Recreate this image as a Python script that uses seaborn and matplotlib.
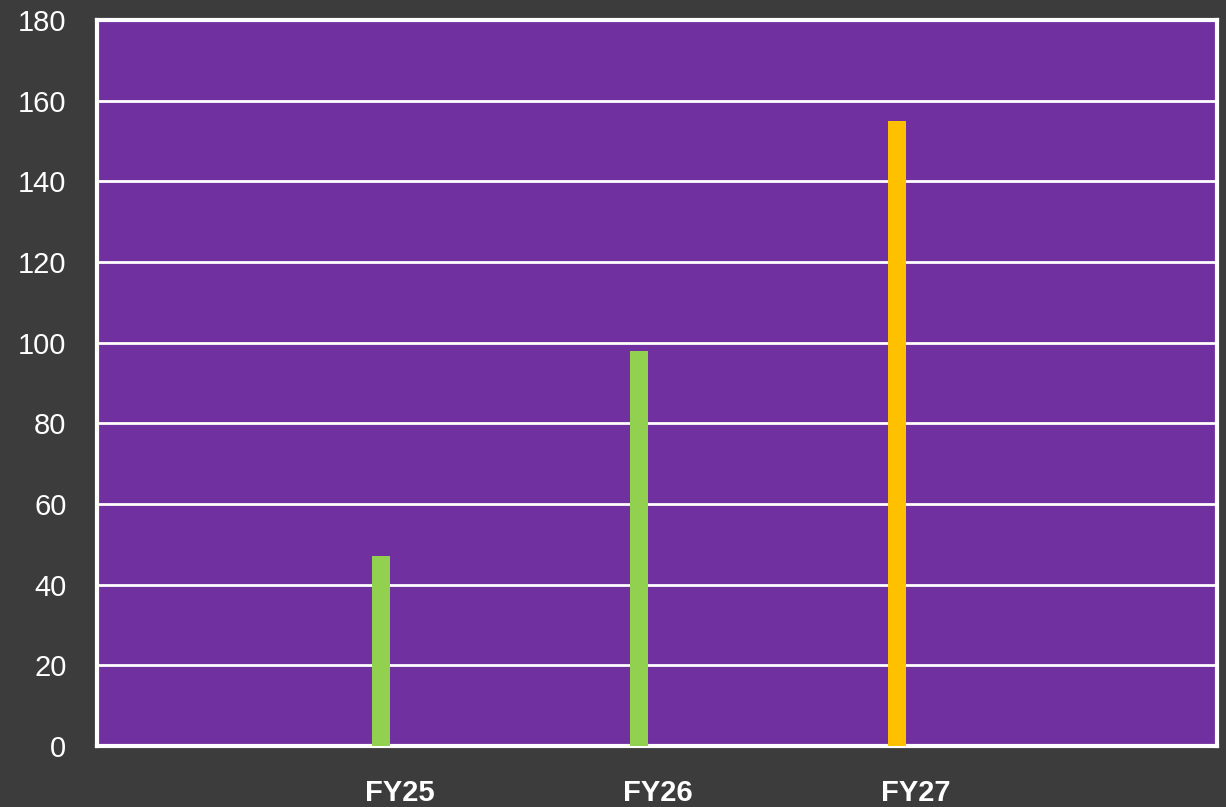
import numpy as np
import pandas as pd
import matplotlib
matplotlib.use('Agg')
import matplotlib.pyplot as plt
import matplotlib.transforms as mtransforms
import seaborn as sns

# data
years = ["FY25", "FY26", "FY27"]
values = [47, 98, 155]
bar_colors = ["#92D050", "#92D050", "#FFC000"]

df = pd.DataFrame({"year": years, "value": values})

sns.set_style("white")
plt.rcParams['font.family'] = ['Liberation Sans', 'DejaVu Sans']

fig = plt.figure(figsize=(12.26, 8.07), dpi=100)
fig.patch.set_facecolor("#3C3C3C")
ax = fig.add_axes([0.0791, 0.0756, 0.9136, 0.8996])
ax.set_facecolor("#7030A0")

sns.barplot(data=df, x="year", y="value", hue="year", palette=bar_colors,
            width=0.07, saturation=1, linewidth=0, legend=False, ax=ax, zorder=3)

ax.set_ylim(0, 180)
ax.set_yticks(range(0, 181, 20))
ax.set_xlim(-1.10, 3.24)
ax.yaxis.grid(True, color="white", linewidth=2, zorder=1)
ax.set_axisbelow(True)

for s in ax.spines.values():
    s.set_color("white")
    s.set_linewidth(3)

ax.tick_params(axis="y", length=0, pad=22, labelsize=21, labelcolor="white")
ax.tick_params(axis="x", length=0, pad=24, labelsize=21, labelcolor="white")
# category labels sit a bit right of the bars in the original
shift = mtransforms.ScaledTranslation(0.19, 0, fig.dpi_scale_trans)
for lbl in ax.get_xticklabels():
    lbl.set_fontweight("bold")
    lbl.set_transform(lbl.get_transform() + shift)
ax.set_xlabel("")
ax.set_ylabel("")

fig.savefig("out.png", dpi=100, facecolor=fig.get_facecolor())
